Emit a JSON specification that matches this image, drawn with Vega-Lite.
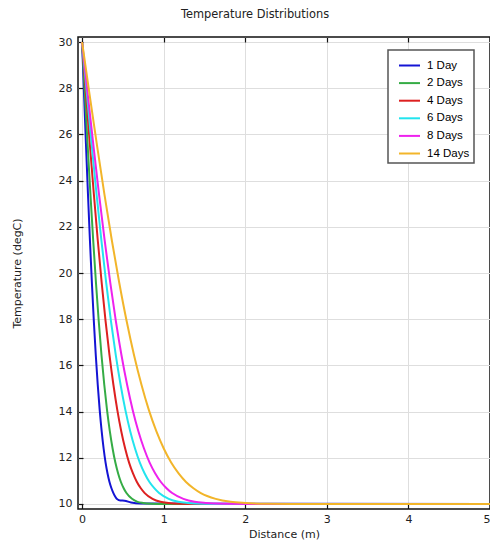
{
  "$schema": "https://vega.github.io/schema/vega-lite/v6.json",
  "autosize": {"type": "none"},
  "padding": {"left": 78, "top": 37, "right": 0, "bottom": 32},
  "width": 412,
  "height": 472,
  "title": {"text": "Temperature Distributions", "font": "DejaVu Sans", "fontSize": 11.4, "fontWeight": "normal", "color": "#222", "anchor": "middle", "dx": -29, "offset": 16},
  "config": {
    "view": {"stroke": "#111", "strokeWidth": 1.5},
    "axis": {"domain": false, "tickColor": "#111", "tickSize": -5, "tickWidth": 1.2, "gridColor": "#dedede", "labelFont": "DejaVu Sans", "labelFontSize": 11, "labelColor": "#222", "titleFont": "DejaVu Sans", "titleFontSize": 11, "titleFontWeight": "normal", "titleColor": "#222"},
    "legend": {"orient": "none", "legendX": 310, "legendY": 13, "symbolType": "stroke", "symbolSize": 441, "symbolStrokeWidth": 2, "symbolOffset": 6, "labelFont": "Liberation Sans", "labelFontSize": 11.5, "labelColor": "#000", "strokeColor": "#555", "strokeWidth": 1.5, "fillColor": "white", "padding": 4, "rowPadding": 0.6, "labelOffset": 6, "labelExpr": "datum.label + '\u00a0\u00a0\u00a0\u00a0\u00a0\u00a0\u00a0'"}
  },
  "data": {"values": [
    {"d":"1 Day","x":0,"t":30},{"d":"1 Day","x":0.024,"t":27.75},{"d":"1 Day","x":0.048,"t":25.55},{"d":"1 Day","x":0.072,"t":23.43},{"d":"1 Day","x":0.096,"t":21.43},{"d":"1 Day","x":0.12,"t":19.59},{"d":"1 Day","x":0.144,"t":17.92},{"d":"1 Day","x":0.168,"t":16.44},{"d":"1 Day","x":0.192,"t":15.16},{"d":"1 Day","x":0.216,"t":14.06},{"d":"1 Day","x":0.24,"t":13.15},{"d":"1 Day","x":0.264,"t":12.4},{"d":"1 Day","x":0.288,"t":11.79},{"d":"1 Day","x":0.312,"t":11.32},{"d":"1 Day","x":0.336,"t":10.95},{"d":"1 Day","x":0.36,"t":10.68},{"d":"1 Day","x":0.384,"t":10.47},{"d":"1 Day","x":0.432,"t":10.2},{"d":"1 Day","x":0.47,"t":10.15},{"d":"1 Day","x":0.52,"t":10.14},{"d":"1 Day","x":0.6,"t":10.06},{"d":"1 Day","x":0.72,"t":10.02},{"d":"1 Day","x":5,"t":10.0},
    {"d":"2 Days","x":0,"t":30},{"d":"2 Days","x":0.034,"t":27.75},{"d":"2 Days","x":0.068,"t":25.55},{"d":"2 Days","x":0.102,"t":23.43},{"d":"2 Days","x":0.136,"t":21.43},{"d":"2 Days","x":0.17,"t":19.59},{"d":"2 Days","x":0.204,"t":17.92},{"d":"2 Days","x":0.238,"t":16.44},{"d":"2 Days","x":0.272,"t":15.16},{"d":"2 Days","x":0.306,"t":14.06},{"d":"2 Days","x":0.34,"t":13.15},{"d":"2 Days","x":0.374,"t":12.4},{"d":"2 Days","x":0.408,"t":11.79},{"d":"2 Days","x":0.442,"t":11.32},{"d":"2 Days","x":0.476,"t":10.95},{"d":"2 Days","x":0.51,"t":10.68},{"d":"2 Days","x":0.544,"t":10.47},{"d":"2 Days","x":0.612,"t":10.22},{"d":"2 Days","x":0.68,"t":10.09},{"d":"2 Days","x":0.748,"t":10.04},{"d":"2 Days","x":0.85,"t":10.01},{"d":"2 Days","x":1.02,"t":10.0},{"d":"2 Days","x":5,"t":10.0},
    {"d":"4 Days","x":0,"t":30},{"d":"4 Days","x":0.048,"t":27.75},{"d":"4 Days","x":0.096,"t":25.55},{"d":"4 Days","x":0.144,"t":23.43},{"d":"4 Days","x":0.192,"t":21.43},{"d":"4 Days","x":0.24,"t":19.59},{"d":"4 Days","x":0.288,"t":17.92},{"d":"4 Days","x":0.336,"t":16.44},{"d":"4 Days","x":0.384,"t":15.16},{"d":"4 Days","x":0.432,"t":14.06},{"d":"4 Days","x":0.48,"t":13.15},{"d":"4 Days","x":0.528,"t":12.4},{"d":"4 Days","x":0.576,"t":11.79},{"d":"4 Days","x":0.624,"t":11.32},{"d":"4 Days","x":0.672,"t":10.95},{"d":"4 Days","x":0.72,"t":10.68},{"d":"4 Days","x":0.768,"t":10.47},{"d":"4 Days","x":0.864,"t":10.22},{"d":"4 Days","x":0.96,"t":10.09},{"d":"4 Days","x":1.056,"t":10.04},{"d":"4 Days","x":1.2,"t":10.01},{"d":"4 Days","x":1.44,"t":10.0},{"d":"4 Days","x":5,"t":10.0},
    {"d":"6 Days","x":0,"t":30},{"d":"6 Days","x":0.059,"t":27.75},{"d":"6 Days","x":0.118,"t":25.55},{"d":"6 Days","x":0.177,"t":23.43},{"d":"6 Days","x":0.236,"t":21.43},{"d":"6 Days","x":0.295,"t":19.59},{"d":"6 Days","x":0.354,"t":17.92},{"d":"6 Days","x":0.413,"t":16.44},{"d":"6 Days","x":0.472,"t":15.16},{"d":"6 Days","x":0.531,"t":14.06},{"d":"6 Days","x":0.59,"t":13.15},{"d":"6 Days","x":0.649,"t":12.4},{"d":"6 Days","x":0.708,"t":11.79},{"d":"6 Days","x":0.767,"t":11.32},{"d":"6 Days","x":0.826,"t":10.95},{"d":"6 Days","x":0.885,"t":10.68},{"d":"6 Days","x":0.944,"t":10.47},{"d":"6 Days","x":1.062,"t":10.22},{"d":"6 Days","x":1.18,"t":10.09},{"d":"6 Days","x":1.298,"t":10.04},{"d":"6 Days","x":1.475,"t":10.01},{"d":"6 Days","x":1.77,"t":10.0},{"d":"6 Days","x":5,"t":10.0},
    {"d":"8 Days","x":0,"t":30},{"d":"8 Days","x":0.069,"t":27.75},{"d":"8 Days","x":0.138,"t":25.55},{"d":"8 Days","x":0.207,"t":23.43},{"d":"8 Days","x":0.276,"t":21.43},{"d":"8 Days","x":0.345,"t":19.59},{"d":"8 Days","x":0.414,"t":17.92},{"d":"8 Days","x":0.483,"t":16.44},{"d":"8 Days","x":0.552,"t":15.16},{"d":"8 Days","x":0.621,"t":14.06},{"d":"8 Days","x":0.69,"t":13.15},{"d":"8 Days","x":0.759,"t":12.4},{"d":"8 Days","x":0.828,"t":11.79},{"d":"8 Days","x":0.897,"t":11.32},{"d":"8 Days","x":0.966,"t":10.95},{"d":"8 Days","x":1.035,"t":10.68},{"d":"8 Days","x":1.104,"t":10.47},{"d":"8 Days","x":1.242,"t":10.22},{"d":"8 Days","x":1.38,"t":10.09},{"d":"8 Days","x":1.518,"t":10.04},{"d":"8 Days","x":1.725,"t":10.01},{"d":"8 Days","x":2.07,"t":10.0},{"d":"8 Days","x":5,"t":10.0},
    {"d":"14 Days","x":0,"t":30},{"d":"14 Days","x":0.091,"t":27.75},{"d":"14 Days","x":0.182,"t":25.55},{"d":"14 Days","x":0.273,"t":23.43},{"d":"14 Days","x":0.364,"t":21.43},{"d":"14 Days","x":0.455,"t":19.59},{"d":"14 Days","x":0.546,"t":17.92},{"d":"14 Days","x":0.637,"t":16.44},{"d":"14 Days","x":0.728,"t":15.16},{"d":"14 Days","x":0.819,"t":14.06},{"d":"14 Days","x":0.91,"t":13.15},{"d":"14 Days","x":1.001,"t":12.4},{"d":"14 Days","x":1.092,"t":11.79},{"d":"14 Days","x":1.183,"t":11.32},{"d":"14 Days","x":1.274,"t":10.95},{"d":"14 Days","x":1.365,"t":10.68},{"d":"14 Days","x":1.456,"t":10.47},{"d":"14 Days","x":1.638,"t":10.22},{"d":"14 Days","x":1.82,"t":10.09},{"d":"14 Days","x":2.002,"t":10.04},{"d":"14 Days","x":2.275,"t":10.01},{"d":"14 Days","x":2.73,"t":10.0},{"d":"14 Days","x":5,"t":10.0}
  ]},
  "layer": [
    {
      "mark": {"type": "line", "strokeWidth": 2, "interpolate": "monotone", "clip": true},
      "encoding": {
        "x": {"field": "x", "type": "quantitative", "scale": {"domain": [-0.05, 5], "nice": false, "zero": false}, "axis": {"values": [0, 1, 2, 3, 4, 5], "title": "Distance (m)", "labelPadding": 9, "titlePadding": 4, "grid": true}},
        "y": {"field": "t", "type": "quantitative", "scale": {"domain": [9.78, 30.22], "nice": false, "zero": false}, "axis": {"values": [10, 12, 14, 16, 18, 20, 22, 24, 26, 28, 30], "title": "Temperature (degC)", "labelPadding": 11, "titlePadding": 36, "grid": true}},
        "color": {"field": "d", "type": "nominal", "title": null, "scale": {"domain": ["1 Day", "2 Days", "4 Days", "6 Days", "8 Days", "14 Days"], "range": ["#1414d4", "#35ac45", "#dd2020", "#22e4ee", "#ee22ee", "#f2b52a"]}}
      }
    },
    {
      "mark": {"type": "point", "opacity": 0},
      "encoding": {
        "x": {"field": "x", "type": "quantitative", "axis": {"orient": "top", "values": [0, 1, 2, 3, 4, 5], "labels": false, "title": null, "grid": false}}
      }
    }
  ],
  "resolve": {"axis": {"x": "independent"}}
}
